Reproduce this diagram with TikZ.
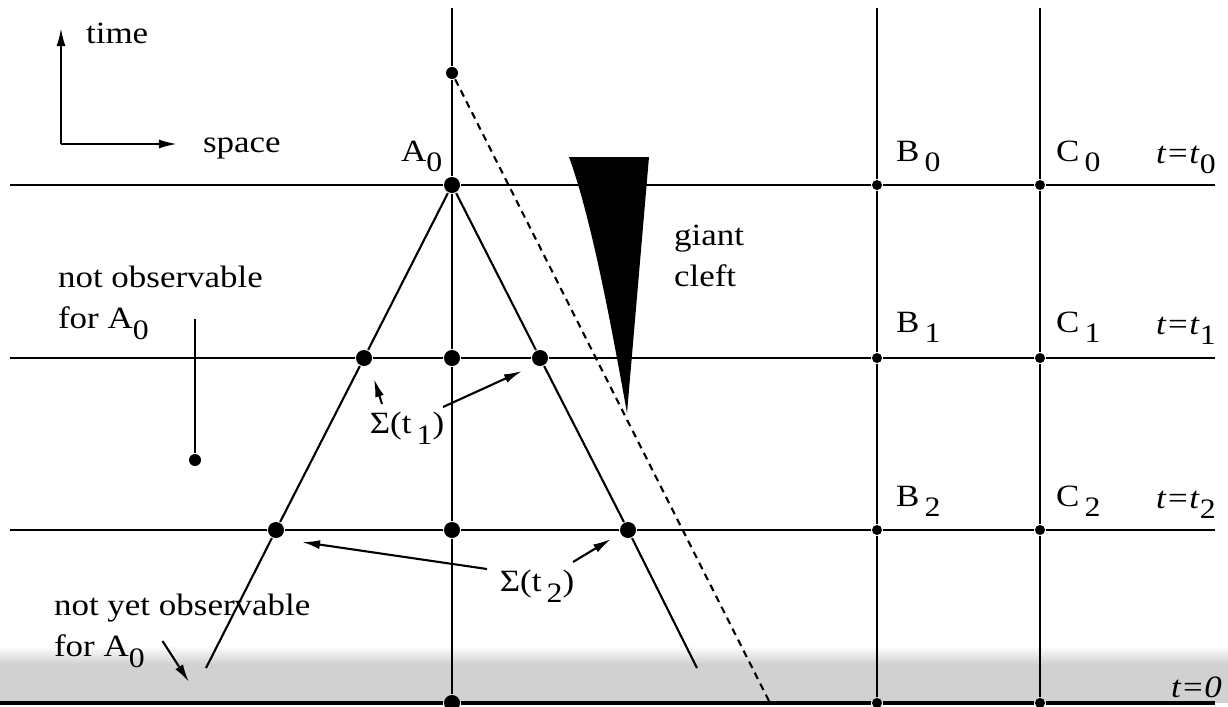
\documentclass[tikz,border=0pt]{standalone}
\usepackage{fontspec}
\setmainfont{Liberation Serif}[FakeStretch=1.13]
\usetikzlibrary{arrows.meta,calc}
\newcommand{\lowsub}[1]{\raisebox{-0.35em}{\fontsize{8}{9}\selectfont #1}}

\begin{document}
\begin{tikzpicture}[x=0.01cm, y=-0.01cm, font=\fontsize{8.8}{11.5}\selectfont, line width=0.6pt]
    \tikzset{big dot/.style={circle,fill=black,inner sep=0pt,minimum size=0.16cm},
             small dot/.style={circle,fill=black,inner sep=0pt,minimum size=0.1cm},
             pointer/.style={-{Latex[length=1.8mm,width=0.9mm]}},
             lbl/.style={anchor=base west,inner sep=0pt},
             remark/.style={anchor=west,align=left,inner sep=0pt}}
    \useasboundingbox (0,0) rectangle (1228,706);

    % Noisy band near t=0
    \fill[black!18] (0,664) rectangle (1228,703);
    \shade[top color=white, bottom color=black!18] (0,646) rectangle (1228,664);

    % Axes
    \coordinate (orig) at (61,144);
    \coordinate (tup) at (61,28);
    \coordinate (sright) at (177,144);
    \draw[pointer] (orig) -- (tup);
    \draw[pointer] (orig) -- (sright);
    \node[lbl] (time) at (85,43) {time};
    \node[lbl] (space) at (202,152) {space};

    % Ends of the time slices
    \coordinate (l0) at (10,185);  \coordinate (r0) at (1215,185);
    \coordinate (l1) at (10,358);  \coordinate (r1) at (1215,358);
    \coordinate (l2) at (10,530);  \coordinate (r2) at (1215,530);
    \coordinate (l3) at (0,703);   \coordinate (r3) at (1215,703);

    % Tops of the world lines
    \coordinate (ta) at (452,8);
    \coordinate (tb) at (877,8);
    \coordinate (tc) at (1040,8);

    % World line of A
    \node[small dot, minimum size=0.12cm] (afut) at (452,73) {};
    \node[big dot] (a0) at (452,185) {};
    \node[big dot] (a1) at (452,358) {};
    \node[big dot] (a2) at (452,530) {};
    \node[big dot] (a3) at (452,703) {};

    % World lines of B and C
    \node[small dot] (b0) at (877,185) {};
    \node[small dot] (b1) at (877,358) {};
    \node[small dot] (b2) at (877,530) {};
    \node[small dot] (b3) at (877,703) {};
    \node[small dot] (c0) at (1040,185) {};
    \node[small dot] (c1) at (1040,358) {};
    \node[small dot] (c2) at (1040,530) {};
    \node[small dot] (c3) at (1040,703) {};

    % Light cone of A0
    \node[big dot] (s1l) at (364,358) {};
    \node[big dot] (s1r) at (540,358) {};
    \node[big dot] (s2l) at (276,530) {};
    \node[big dot] (s2r) at (628,530) {};
    \coordinate (cl) at (206,668);
    \coordinate (cr) at (697,668);
    \coordinate (dend) at (770,703);

    % Time slices
    \draw (l0) -- (a0) -- (b0) -- (c0) -- (r0);
    \draw (l1) -- (s1l) -- (a1) -- (s1r) -- (b1) -- (c1) -- (r1);
    \draw (l2) -- (s2l) -- (a2) -- (s2r) -- (b2) -- (c2) -- (r2);
    \draw[line width=0.9pt] (l3) -- (a3) -- (b3) -- (c3) -- (r3);

    % World lines
    \draw (ta) -- (afut) -- (a0) -- (a1) -- (a2) -- (a3);
    \draw (tb) -- (b0) -- (b1) -- (b2) -- (b3);
    \draw (tc) -- (c0) -- (c1) -- (c2) -- (c3);

    % Cone edges
    \draw (a0) -- (s1l) -- (s2l) -- (cl);
    \draw (a0) -- (s1r) -- (s2r) -- (cr);
    \draw[dash pattern=on 2pt off 1.5pt] (afut) -- (dend);

    % Giant cleft
    \fill (569,157) -- (649,157) -- (627,413)
        .. controls (612,330) and (592,220) .. (569,157) -- cycle;
    \node[remark] (cleft) at (673,256) {giant\\cleft};

    % Labels of the events
    \node[lbl] (la0) at (400,161) {A\lowsub{0}};
    \node[lbl] (lb0) at (895,161) {B\,\lowsub{0}};
    \node[lbl] (lc0) at (1055,161) {C\,\lowsub{0}};
    \node[lbl] (lt0) at (1155,163) {\textit{t=t}\lowsub{0}};
    \node[lbl] (lb1) at (895,332) {B\,\lowsub{1}};
    \node[lbl] (lc1) at (1055,332) {C\,\lowsub{1}};
    \node[lbl] (lt1) at (1155,334) {\textit{t=t}\lowsub{1}};
    \node[lbl] (lb2) at (895,506) {B\,\lowsub{2}};
    \node[lbl] (lc2) at (1055,506) {C\,\lowsub{2}};
    \node[lbl] (lt2) at (1155,508) {\textit{t=t}\lowsub{2}};
    \node[lbl] (lt3) at (1170,697) {\textit{t=0}};

    % Not observable region
    \node[remark] (nobs) at (57,303) {not observable\\for A\lowsub{0}};
    \coordinate (nobs end) at (195,319);
    \node[small dot, minimum size=0.12cm] (ev) at (195,460) {};
    \draw (nobs end) -- (ev);

    % Not yet observable region
    \node[remark] (nyobs) at (53,631) {not yet observable\\for A\lowsub{0}};
    \coordinate (nyobs tip) at (189,682);
    \draw[pointer] ($(nyobs.east)+(-149,10)$) -- (nyobs tip);

    % Sigma labels
    \node (sig1) at (407,428) {Σ(t\,\lowsub{1})};
    \coordinate (sig1 l) at (374,379);
    \coordinate (sig1 r) at (522,371);
    \draw[pointer] ($(sig1)+(-25,-24)$) -- (sig1 l);
    \draw[pointer] ($(sig1)+(36,-21)$) -- (sig1 r);

    \node (sig2) at (537,586) {Σ(t\,\lowsub{2})};
    \coordinate (sig2 l) at (302,542);
    \coordinate (sig2 r) at (611,539);
    \draw[pointer] ($(sig2)+(-50,-17)$) -- (sig2 l);
    \draw[pointer] ($(sig2)+(36,-24)$) -- (sig2 r);
\end{tikzpicture}
\end{document}
